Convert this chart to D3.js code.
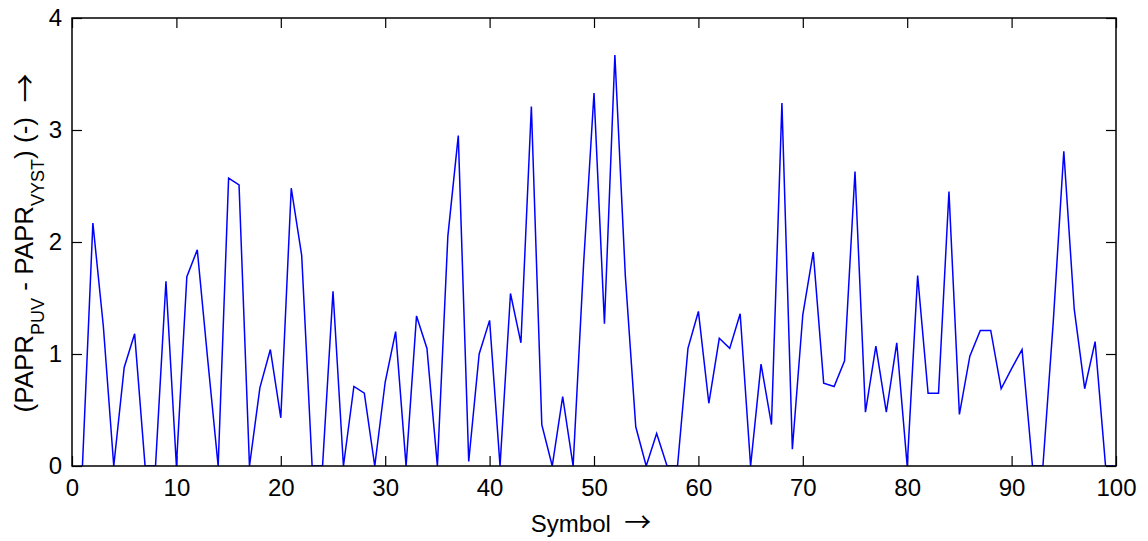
<!DOCTYPE html>
<html>
<head>
<meta charset="utf-8">
<script src="https://cdn.jsdelivr.net/npm/d3@7"></script>
<style>
  html, body { margin: 0; padding: 0; background: #fff; }
  svg { display: block; }
</style>
</head>
<body>
<svg id="chart" width="1148" height="541"></svg>
<script>
// PAPR difference per symbol
const symbols = d3.range(1, 101);
const paprDiff = [
  0, 2.17, 1.25, 0, 0.88, 1.18, 0, 0, 1.65, 0,
  1.69, 1.93, 0.95, 0, 2.57, 2.51, 0, 0.70, 1.04, 0.43,
  2.48, 1.88, 0, 0, 1.56, 0, 0.71, 0.65, 0, 0.75,
  1.20, 0, 1.34, 1.05, 0, 2.05, 2.95, 0.04, 1.00, 1.30,
  0, 1.54, 1.10, 3.21, 0.37, 0, 0.62, 0, 1.80, 3.33,
  1.27, 3.67, 1.70, 0.35, 0, 0.29, 0, 0, 1.05, 1.38,
  0.56, 1.14, 1.05, 1.36, 0, 0.91, 0.37, 3.24, 0.15, 1.35,
  1.91, 0.74, 0.71, 0.94, 2.63, 0.48, 1.07, 0.48, 1.10, 0,
  1.70, 0.65, 0.65, 2.45, 0.46, 0.98, 1.21, 1.21, 0.69, 0.87,
  1.04, 0, 0, 1.30, 2.81, 1.40, 0.69, 1.11, 0, 0
];
const xTicks = [0, 10, 20, 30, 40, 50, 60, 70, 80, 90, 100];
const yTicks = [0, 1, 2, 3, 4];

const svg = d3.select("#chart");
const plot = { left: 72, right: 1116, top: 18, bottom: 466 };

const x = d3.scaleLinear().domain([0, 100]).range([plot.left, plot.right]);
const y = d3.scaleLinear().domain([0, 4]).range([plot.bottom, plot.top]);

const tickLen = 10;
const fontSize = 24;
const fontFamily = "Liberation Sans, Arial, sans-serif";
const arrowFont = "Noto Sans CJK SC, DejaVu Sans, sans-serif";

const styleAxis = g => {
  g.select(".domain").remove();
  g.selectAll("line").attr("stroke", "#000").attr("stroke-width", 1.2);
  g.selectAll("text").attr("font-size", fontSize).attr("font-family", fontFamily).attr("fill", "#000");
};

// bottom axis with labels
svg.append("g")
  .attr("transform", `translate(0,${plot.bottom})`)
  .call(d3.axisBottom(x).tickValues(xTicks).tickFormat(d3.format("d"))
    .tickSizeInner(-tickLen).tickSizeOuter(0).tickPadding(13))
  .call(styleAxis);

// top mirror ticks
svg.append("g")
  .attr("transform", `translate(0,${plot.top})`)
  .call(d3.axisTop(x).tickValues(xTicks).tickSizeInner(-tickLen).tickSizeOuter(0).tickFormat(""))
  .call(styleAxis);

// left axis with labels
svg.append("g")
  .attr("transform", `translate(${plot.left},0)`)
  .call(d3.axisLeft(y).tickValues(yTicks).tickFormat(d3.format("d"))
    .tickSizeInner(-tickLen).tickSizeOuter(0).tickPadding(10))
  .call(styleAxis);

// right mirror ticks
svg.append("g")
  .attr("transform", `translate(${plot.right},0)`)
  .call(d3.axisRight(y).tickValues(yTicks).tickSizeInner(-tickLen).tickSizeOuter(0).tickFormat(""))
  .call(styleAxis);

// data line, clipped to the plot box
svg.append("clipPath").attr("id", "plotClip")
  .append("rect")
  .attr("x", plot.left).attr("y", plot.top)
  .attr("width", plot.right - plot.left).attr("height", plot.bottom - plot.top);

const line = d3.line().x((d, i) => x(symbols[i])).y(d => y(d));
svg.append("path")
  .datum(paprDiff)
  .attr("clip-path", "url(#plotClip)")
  .attr("fill", "none")
  .attr("stroke", "#0000ff")
  .attr("stroke-width", 1.5)
  .attr("d", line);

// plot box
svg.append("rect")
  .attr("x", plot.left).attr("y", plot.top)
  .attr("width", plot.right - plot.left).attr("height", plot.bottom - plot.top)
  .attr("fill", "none").attr("stroke", "#000").attr("stroke-width", 1.5);

// x axis title
const xTitle = svg.append("text")
  .attr("x", 591).attr("y", 532)
  .attr("text-anchor", "middle")
  .attr("font-size", fontSize).attr("font-family", fontFamily).attr("fill", "#000")
  .attr("xml:space", "preserve");
xTitle.append("tspan").text("Symbol  ");
xTitle.append("tspan").attr("font-family", arrowFont).attr("font-size", 27).text("\u2192");

// y axis title with subscripts
const yTitle = svg.append("text")
  .attr("transform", "translate(33,243) rotate(-90)")
  .attr("text-anchor", "middle")
  .attr("font-size", 26).attr("font-family", fontFamily).attr("fill", "#000")
  .attr("xml:space", "preserve");
yTitle.append("tspan").text("(PAPR");
yTitle.append("tspan").attr("font-size", 18).attr("dy", 11).text("PUV");
yTitle.append("tspan").attr("dy", -11).text(" - PAPR");
yTitle.append("tspan").attr("font-size", 18).attr("dy", 11).text("VYST");
yTitle.append("tspan").attr("dy", -11).text(") (-)  ");
yTitle.append("tspan").attr("font-family", arrowFont).attr("font-size", 29).attr("dy", 3).text("\u2192");
</script>
</body>
</html>
